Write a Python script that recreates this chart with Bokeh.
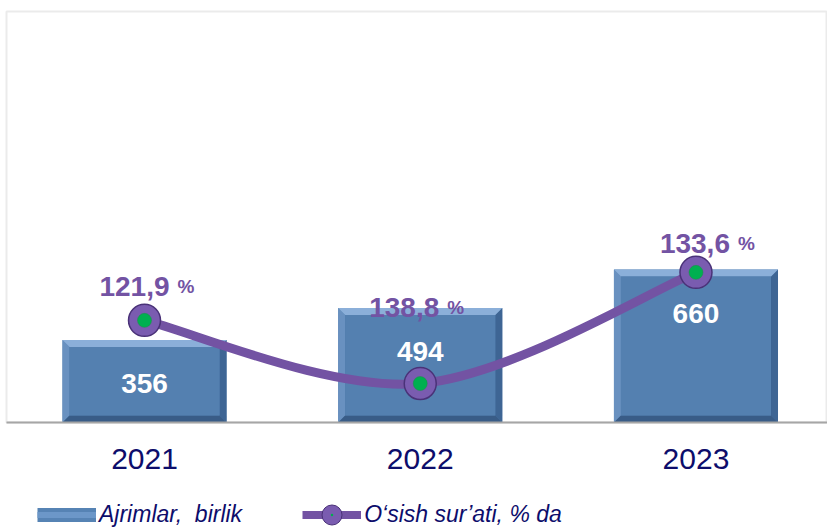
from bokeh.plotting import figure
from bokeh.layouts import column
from bokeh.models import Range1d, FixedTicker, Legend, LegendItem, ColumnDataSource
from bokeh.core.properties import value
from bokeh.embed import file_html
from bokeh.resources import INLINE

# ---- data ----
years = ["2021", "2022", "2023"]
ajrimlar = [356, 494, 660]                 # bars (birlik)
osish_label = [121.9, 138.8, 133.6]        # printed growth rates, %
osish_plot = [121.9, 106.5, 133.6]         # line positions as drawn in the source chart

# ---- layout constants ----
FW, FH = 821, 411
X0, X1 = -0.5005, 2.477
Y0, Y1 = 0, 1773
G0, G1 = 97.0, 197.2
BAR_W = 0.595
BEVEL = 7
lab_dx = [25, 19, 34]
lab_dy = [-34, -76, -29]

NAVY = "#0D0D6B"
PURPLE = "#7353A3"
FONT = "Liberation Sans"

xs = list(range(len(years)))

p = figure(frame_width=FW, frame_height=FH,
           x_range=Range1d(X0, X1), y_range=Range1d(Y0, Y1),
           output_backend="svg", toolbar_location=None, y_axis_location=None,
           min_border_left=6, min_border_right=0, min_border_top=11, min_border_bottom=65)
p.extra_y_ranges = {"g": Range1d(G0, G1)}
p.grid.visible = False
p.outline_line_color = "#EBEBEB"
p.outline_line_width = 2
p.background_fill_color = "white"
p.border_fill_color = "white"

# ---- bars with bevel ----
ux = (X1 - X0) / FW
uy = (Y1 - Y0) / FH
bx, by = BEVEL * ux, BEVEL * uy
L = [x - BAR_W / 2 for x in xs]
R = [x + BAR_W / 2 for x in xs]
T = ajrimlar

top_x = [[l, r, r - bx, l + bx] for l, r in zip(L, R)]
top_y = [[t, t, t - by, t - by] for t in T]
left_x = [[l, l, l + bx, l + bx] for l in L]
left_y = [[0, t, t - by, by] for t in T]
right_x = [[r, r, r - bx, r - bx] for r in R]
right_y = [[0, t, t - by, by] for t in T]
bot_x = [[l, r, r - bx, l + bx] for l, r in zip(L, R)]
bot_y = [[0, 0, by, by] for _ in T]

p.quad(left=L, right=R, bottom=0, top=T, fill_color="#4F7BAB", line_color=None)
p.patches(left_x, left_y, fill_color="#6991C0", line_color=None)
p.patches(right_x, right_y, fill_color="#3E6594", line_color=None)
p.patches(bot_x, bot_y, fill_color="#395C87", line_color=None)
p.patches(top_x, top_y, fill_color="#8BAFD9", line_color=None)
p.quad(left=[l + bx for l in L], right=[r - bx for r in R], bottom=by,
       top=[t - by for t in T], fill_color="#5480B0", line_color=None)

# bar value labels
p.text(x=xs, y=ajrimlar, text=[str(v) for v in ajrimlar], y_offset=44,
       text_align="center", text_baseline="middle", text_color="white",
       text_font=value(FONT), text_font_style="bold", text_font_size="28px")

# ---- smooth growth line (Catmull-Rom as cubic Bezier segments) ----
P = list(zip(xs, osish_plot))
n = len(P)
seg = dict(x0=[], y0=[], x1=[], y1=[], cx0=[], cy0=[], cx1=[], cy1=[])
for i in range(n - 1):
    pm = P[i - 1] if i > 0 else P[i]
    p0, p1 = P[i], P[i + 1]
    p2 = P[i + 2] if i + 2 < n else P[i + 1]
    seg["x0"].append(p0[0]); seg["y0"].append(p0[1])
    seg["x1"].append(p1[0]); seg["y1"].append(p1[1])
    seg["cx0"].append(p0[0] + (p1[0] - pm[0]) / 6)
    seg["cy0"].append(p0[1] + (p1[1] - pm[1]) / 6)
    seg["cx1"].append(p1[0] - (p2[0] - p0[0]) / 6)
    seg["cy1"].append(p1[1] - (p2[1] - p0[1]) / 6)
p.bezier(source=ColumnDataSource(seg), x0="x0", y0="y0", x1="x1", y1="y1",
         cx0="cx0", cy0="cy0", cx1="cx1", cy1="cy1", y_range_name="g",
         line_color=PURPLE, line_width=9, line_cap="round")

p.ellipse(x=xs, y=osish_plot, width=32, height=32, width_units="screen",
          height_units="screen", y_range_name="g",
          fill_color="#7A5CB0", line_color="#4A3278", line_width=1.5)
p.ellipse(x=xs, y=osish_plot, width=14, height=14, width_units="screen",
          height_units="screen", y_range_name="g",
          fill_color="#00B050", line_color="#1E8A4A", line_width=0.5)

# growth labels
gsrc = ColumnDataSource(dict(
    x=xs, y=osish_plot,
    t=[f"{v:.1f}".replace(".", ",") for v in osish_label],
    dx=lab_dx, dxp=[d + 8 for d in lab_dx], dy=lab_dy))
p.text(x="x", y="y", text="t", x_offset="dx", y_offset="dy", source=gsrc,
       y_range_name="g", text_align="right", text_baseline="alphabetic",
       text_color=PURPLE, text_font=value(FONT), text_font_style="bold",
       text_font_size="28px")
p.text(x="x", y="y", text=value("%"), x_offset="dxp", y_offset="dy", source=gsrc,
       y_range_name="g", text_align="left", text_baseline="alphabetic",
       text_color=PURPLE, text_font=value(FONT), text_font_style="bold",
       text_font_size="19px")

# ---- x axis ----
p.xaxis.ticker = FixedTicker(ticks=xs)
p.xaxis.major_label_overrides = {i: y for i, y in enumerate(years)}
p.xaxis.major_tick_line_color = None
p.xaxis.minor_tick_line_color = None
p.xaxis.axis_line_color = "#A6A6A6"
p.xaxis.axis_line_width = 2
p.xaxis.major_label_text_font = FONT
p.xaxis.major_label_text_font_size = "30px"
p.xaxis.major_label_text_color = NAVY
p.xaxis.major_label_standoff = 20

# ---- legend strip ----
LEG_H = 529 - (11 + FH + 65)
q = figure(width=827, height=LEG_H, x_range=Range1d(0, 1), y_range=Range1d(0, 1),
           output_backend="svg", toolbar_location=None,
           x_axis_location=None, y_axis_location=None,
           min_border_left=0, min_border_right=0, min_border_top=0, min_border_bottom=0)
q.grid.visible = False
q.outline_line_color = None
q.background_fill_color = "white"
q.border_fill_color = "white"
nan = [float("nan")]
leg_bar = q.line(x=nan, y=nan, line_color="#5683B4", line_width=14)
leg_bar2 = q.line(x=nan, y=nan, line_color="#6C97C8", line_width=6)
leg_line = q.line(x=nan, y=nan, line_color=PURPLE, line_width=8)
leg_mark = q.ellipse(x=nan, y=nan, width=30, height=30, width_units="screen",
                     height_units="screen", fill_color="#7A5CB0",
                     line_color="#4A3278", line_width=1)
leg_dot = q.scatter(x=nan, y=nan, marker="dot", size=10, line_width=3,
                    line_color="#00B050", fill_color="#00B050")
legend = Legend(items=[LegendItem(label="Ajrimlar,  birlik", renderers=[leg_bar, leg_bar2]),
                       LegendItem(label="O‘sish sur’ati, % da",
                                  renderers=[leg_line, leg_mark, leg_dot])],
                orientation="horizontal", location=(31, 1),
                glyph_width=59, glyph_height=25, label_standoff=3, spacing=60,
                padding=0, margin=0, border_line_alpha=0, background_fill_alpha=0,
                label_text_font=FONT, label_text_font_style="italic",
                label_text_font_size="23px", label_text_color=NAVY)
q.add_layout(legend)

layout = column(p, q, spacing=0)
open("out.html", "w").write(file_html(layout, INLINE))
